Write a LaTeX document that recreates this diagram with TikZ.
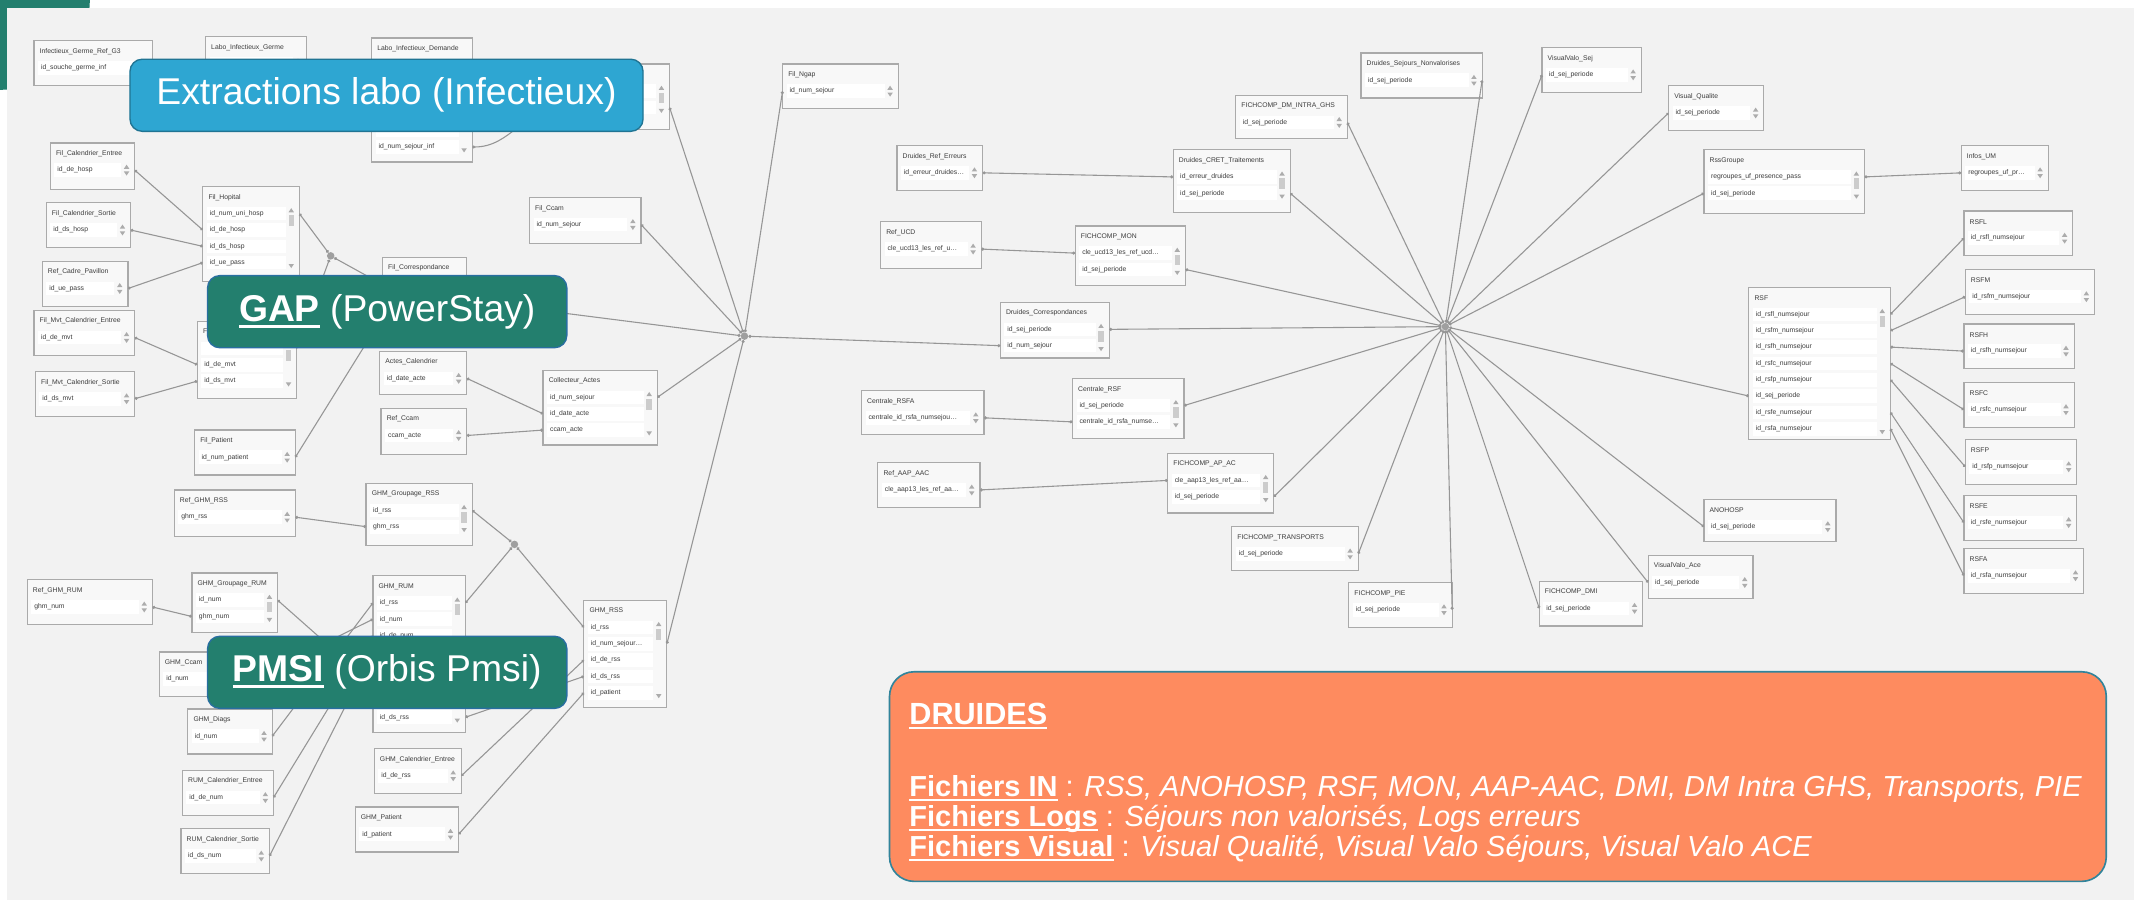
\documentclass[tikz,border=0pt]{standalone}
\usepackage{fontspec}
\setmainfont{Liberation Sans}
\usetikzlibrary{calc,arrows.meta}
\definecolor{bggray}{RGB}{242,242,242}
\definecolor{tblfill}{RGB}{248,248,248}
\definecolor{tbledge}{RGB}{170,170,170}
\definecolor{txtgray}{RGB}{60,60,60}
\definecolor{linkgray}{RGB}{150,150,150}
\definecolor{labblue}{RGB}{46,166,210}
\definecolor{gapgreen}{RGB}{35,127,110}
\definecolor{gapedge}{RGB}{40,110,160}
\definecolor{druorange}{RGB}{254,139,95}
\definecolor{druteal}{RGB}{49,132,155}
\def\hubnode{\node[hub]}
\newsavebox\ulsave
\newcommand\ulbox[1]{\sbox\ulsave{#1}\rlap{\rule[-.17em]{\wd\ulsave}{.08em}}\usebox\ulsave}
% one table: name, x, y, width, height, title, fields
\newcommand\dbtable[7]{%
  \node[tblbox, minimum width=#4, minimum height=#5] (#1) at (#2,#3) {};
  \node[tbltxt] (#1-t) at ($(#1.north west)+(4,8)$) {#6};
  \foreach \f [count=\i] in {#7} {
    \fill[white] ($(#1.north west)+(3,{8+12*\i-5})$) rectangle ($(#1.north east)+(-10,{8+12*\i+5})$);
    \node[tbltxt] (#1-f\i) at ($(#1.north west)+(5,{8+12*\i})$) {\f};
    \coordinate (#1-w\i) at (#1.west |- #1-f\i);
    \coordinate (#1-e\i) at (#1.east |- #1-f\i);
    \xdef\lastrow{\i}
  }
  \fill[gray!65] ($(#1.north east)+(-6,16)$) -- ++(-2,3) -- ++(4,0) -- cycle;
  \fill[gray!65] ($(#1.north east)+(-6,{8+12*\lastrow+4})$) -- ++(-2,-3) -- ++(4,0) -- cycle;
  \ifnum\lastrow>1 \fill[gray!40] ($(#1.north east)+(-8,21)$) rectangle ++(4,8); \fi
}

\begin{document}
\begin{tikzpicture}[x=1pt,y=-1pt,
  tblbox/.style={draw=tbledge, line width=.9pt, fill=tblfill, rectangle, inner sep=0pt, outer sep=0pt, anchor=north west},
  tbltxt/.style={font=\fontsize{5}{5.5}\selectfont, text=txtgray, inner sep=0pt, anchor=west},
  link/.style={draw=linkgray, line width=.8pt, arrows={Circle[length=2.2pt]-Circle[length=2.2pt]}},
  hub/.style={circle, fill=gray!75, inner sep=0pt, minimum size=5.5pt},
  tag/.style={anchor=north west, rounded corners=9pt, text=white, line width=1pt, minimum height=53,
    font=\fontsize{27.4}{30}\selectfont, inner sep=0pt},
  drutxt/.style={anchor=base west, inner sep=0pt, text=white, font=\fontsize{21.3}{23}\selectfont}]
\useasboundingbox (0,0) rectangle (1568,661);
\fill[white] (0,0) rectangle (1568,661);
\fill[gapgreen] (0,0) circle (66);
\fill[bggray] (5,6) rectangle (1568,661);

% Infectieux
\dbtable{germref}{25}{30}{87}{33}{Infectieux\_Germe\_Ref\_G3}{id\_souche\_germe\_inf}
\dbtable{labogerme}{151}{27}{74}{45}{Labo\_Infectieux\_Germe}{{}}
\dbtable{labodem}{273}{28}{74}{91}{Labo\_Infectieux\_Demande}{{},{},{},{},{},id\_num\_sejour\_inf}
\dbtable{labosej}{414}{47}{78}{48}{Labo\_Infectieux\_Sejour}{{},{}}
\dbtable{filngap}{575}{47}{85}{33}{Fil\_Ngap}{id\_num\_sejour}
\dbtable{filccam}{389}{145}{82}{34}{Fil\_Ccam}{id\_num\_sejour}

% GAP
\dbtable{calin}{37}{105}{62}{34}{Fil\_Calendrier\_Entree}{id\_de\_hosp}
\dbtable{calout}{34}{149}{62}{33}{Fil\_Calendrier\_Sortie}{id\_ds\_hosp}
\dbtable{cadre}{31}{192}{63}{33}{Ref\_Cadre\_Pavillon}{id\_ue\_pass}
\dbtable{hop}{149}{137}{71}{70}{Fil\_Hopital}{id\_num\_uni\_hosp,id\_de\_hosp,id\_ds\_hosp,id\_ue\_pass}
\dbtable{corr}{281}{189}{62}{57}{Fil\_Correspondance}{{},{},{}}
\dbtable{mvt}{145}{236}{73}{57}{Fil\_Mvt}{{},id\_de\_mvt,id\_ds\_mvt}
\dbtable{mvtin}{25}{228}{74}{33}{Fil\_Mvt\_Calendrier\_Entree}{id\_de\_mvt}
\dbtable{mvtout}{26}{273}{73}{33}{Fil\_Mvt\_Calendrier\_Sortie}{id\_ds\_mvt}
\dbtable{patient}{143}{316}{74}{33}{Fil\_Patient}{id\_num\_patient}
\dbtable{actcal}{279}{258}{64}{32}{Actes\_Calendrier}{id\_date\_acte}
\dbtable{refccam}{280}{300}{63}{34}{Ref\_Ccam}{ccam\_acte}
\dbtable{collact}{399}{272}{84}{55}{Collecteur\_Actes}{id\_num\_sejour,id\_date\_acte,ccam\_acte}

% PMSI
\dbtable{refrss}{128}{360}{89}{34}{Ref\_GHM\_RSS}{ghm\_rss}
\dbtable{grprss}{269}{355}{78}{46}{GHM\_Groupage\_RSS}{id\_rss,ghm\_rss}
\dbtable{refrum}{20}{426}{92}{33}{Ref\_GHM\_RUM}{ghm\_num}
\dbtable{grprum}{141}{421}{63}{44}{GHM\_Groupage\_RUM}{id\_num,ghm\_num}
\dbtable{rum}{274}{423}{68}{115}{GHM\_RUM}{id\_rss,id\_num,id\_de\_num,{},{},{},{},id\_ds\_rss}
\dbtable{ghmccam}{117}{479}{68}{33}{GHM\_Ccam}{id\_num}
\dbtable{diags}{138}{521}{62}{33}{GHM\_Diags}{id\_num}
\dbtable{rumin}{134}{566}{67}{33}{RUM\_Calendrier\_Entree}{id\_de\_num}
\dbtable{rumout}{133}{609}{65}{33}{RUM\_Calendrier\_Sortie}{id\_ds\_num}
\dbtable{ghmcalin}{275}{550}{64}{33}{GHM\_Calendrier\_Entree}{id\_de\_rss}
\dbtable{ghmpat}{261}{593}{76}{33}{GHM\_Patient}{id\_patient}
\dbtable{rss}{429}{441}{61}{79}{GHM\_RSS}{id\_rss,id\_num\_sejour\ldots,id\_de\_rss,id\_ds\_rss,id\_patient}

% DRUIDES
\dbtable{erreur}{659}{107}{63}{33}{Druides\_Ref\_Erreurs}{id\_erreur\_druides\ldots}
\dbtable{refucd}{647}{163}{74}{34}{Ref\_UCD}{cle\_ucd13\_les\_ref\_u\ldots}
\dbtable{cret}{862}{110}{86}{46}{Druides\_CRET\_Traitements}{id\_erreur\_druides,id\_sej\_periode}
\dbtable{dmintra}{908}{70}{82}{32}{FICHCOMP\_DM\_INTRA\_GHS}{id\_sej\_periode}
\dbtable{nonval}{1000}{39}{89}{33}{Druides\_Sejours\_Nonvalorises}{id\_sej\_periode}
\dbtable{valosej}{1133}{35}{73}{33}{VisualValo\_Sej}{id\_sej\_periode}
\dbtable{qualite}{1226}{63}{70}{33}{Visual\_Qualite}{id\_sej\_periode}
\dbtable{rssgrp}{1252}{110}{118}{47}{RssGroupe}{regroupes\_uf\_presence\_pass,id\_sej\_periode}
\dbtable{infosum}{1441}{107}{64}{33}{Infos\_UM}{regroupes\_uf\_pr\ldots}
\dbtable{mon}{790}{166}{81}{44}{FICHCOMP\_MON}{cle\_ucd13\_les\_ref\_ucd\ldots,id\_sej\_periode}
\dbtable{drcorr}{735}{222}{80}{41}{Druides\_Correspondances}{id\_sej\_periode,id\_num\_sejour}
\dbtable{rsfa0}{633}{287}{90}{32}{Centrale\_RSFA}{centrale\_id\_rsfa\_numsejou\ldots}
\dbtable{crsf}{788}{278}{82}{44}{Centrale\_RSF}{id\_sej\_periode,centrale\_id\_rsfa\_numse\ldots}
\dbtable{refaap}{645}{340}{75}{33}{Ref\_AAP\_AAC}{cle\_aap13\_les\_ref\_aa\ldots}
\dbtable{apac}{858}{333}{78}{44}{FICHCOMP\_AP\_AC}{cle\_aap13\_les\_ref\_aa\ldots,id\_sej\_periode}
\dbtable{transp}{905}{387}{93}{32}{FICHCOMP\_TRANSPORTS}{id\_sej\_periode}
\dbtable{pie}{991}{428}{76}{33}{FICHCOMP\_PIE}{id\_sej\_periode}
\dbtable{dmi}{1131}{427}{76}{33}{FICHCOMP\_DMI}{id\_sej\_periode}
\dbtable{valoace}{1211}{408}{77}{32}{VisualValo\_Ace}{id\_sej\_periode}
\dbtable{anohosp}{1252}{367}{97}{31}{ANOHOSP}{id\_sej\_periode}
\dbtable{rsf}{1285}{211}{104}{112}{RSF}{id\_rsfl\_numsejour,id\_rsfm\_numsejour,id\_rsfh\_numsejour,id\_rsfc\_numsejour,id\_rsfp\_numsejour,id\_sej\_periode,id\_rsfe\_numsejour,id\_rsfa\_numsejour}
\dbtable{rsfl}{1443}{155}{80}{33}{RSFL}{id\_rsfl\_numsejour}
\dbtable{rsfm}{1444}{198}{95}{33}{RSFM}{id\_rsfm\_numsejour}
\dbtable{rsfh}{1443}{238}{81}{33}{RSFH}{id\_rsfh\_numsejour}
\dbtable{rsfc}{1443}{281}{81}{33}{RSFC}{id\_rsfc\_numsejour}
\dbtable{rsfp}{1444}{323}{82}{33}{RSFP}{id\_rsfp\_numsejour}
\dbtable{rsfe}{1443}{364}{83}{33}{RSFE}{id\_rsfe\_numsejour}
\dbtable{rsfa}{1443}{403}{88}{33}{RSFA}{id\_rsfa\_numsejour}

% hubs and links
\hubnode (hubgap) at (547,247) {};
\hubnode (hubdru) at (1062,240) {};
\hubnode (hubhop) at (243,188) {};
\hubnode (hubrss) at (378,400) {};
\draw[link] (calin-e1) -- (hop-w2);
\draw[link] (calout-e1) -- (hop-w3);
\draw[link] (cadre-e1) -- (hop-w4);
\draw[link] (hop-e1) -- (hubhop);
\draw[link] (hubhop) -- (corr-w1);
\draw[link] (hubhop) -- (mvt-e1);
\draw[link] (mvtin-e1) -- (mvt-w2);
\draw[link] (mvtout-e1) -- (mvt-w3);
\draw[link] (patient-e1) -- (corr-w3);
\draw[link] (actcal-e1) -- (collact-w2);
\draw[link] (refccam-e1) -- (collact-w3);
\draw[link] (labodem-e6) to[out=0,in=180] (labosej-w2);
\foreach \t/\r in {labosej/2, filccam/1, corr/2, collact/1, rss/2}
  \draw[link] (\t-e\r) -- (hubgap);
\draw[link] (filngap-w1) -- (hubgap);
\draw[link] (hubgap) -- (drcorr-w2);
\draw[link] (refrss-e1) -- (grprss-w2);
\draw[link] (grprss-e1) -- (hubrss);
\draw[link] (hubrss) -- (rum-e1);
\draw[link] (hubrss) -- (rss-w1);
\draw[link] (refrum-e1) -- (grprum-w2);
\draw[link] (grprum-e1) -- (rum-w6);
\draw[link] (ghmccam-e1) -- (rum-w2);
\draw[link] (diags-e1) -- (rum-w1);
\draw[link] (rumin-e1) -- (rum-w3);
\draw[link] (rumout-e1) -- (rum-w4);
\draw[link] (rum-e8) -- (rss-w4);
\draw[link] (ghmcalin-e1) -- (rss-w3);
\draw[link] (ghmpat-e1) -- (rss-w5);
\draw[link] (erreur-e1) -- (cret-w1);
\draw[link] (refucd-e1) -- (mon-w1);
\draw[link] (rsfa0-e1) -- (crsf-w2);
\draw[link] (refaap-e1) -- (apac-w1);
\draw[link] (rssgrp-e1) -- (infosum-w1);
\foreach \t/\r in {cret/2, dmintra/1, nonval/1, mon/2, drcorr/1, crsf/1, apac/2, transp/1, pie/1}
  \draw[link] (hubdru) -- (\t-e\r);
\foreach \t/\r in {valosej/1, qualite/1, rssgrp/2, rsf/6, anohosp/1, valoace/1, dmi/1}
  \draw[link] (hubdru) -- (\t-w\r);
\foreach \t/\r in {rsfl/1, rsfm/2, rsfh/3, rsfc/4, rsfp/5, rsfe/7, rsfa/8}
  \draw[link] (rsf-e\r) -- (\t-w1);

% labels
\node[tag, fill=labblue, draw=labblue!70!black, minimum width=377] (labotag) at (95,43) {Extractions labo (Infectieux)};
\node[tag, fill=gapgreen, draw=gapedge, minimum width=264] (gaptag) at (152,202) {\ulbox{\textbf{GAP}} (PowerStay)};
\node[tag, fill=gapgreen, draw=gapedge, minimum width=264] (pmsitag) at (152,467) {\ulbox{\textbf{PMSI}} (Orbis Pmsi)};
\node[anchor=north west, fill=druorange, draw=druteal, line width=1.2pt, rounded corners=18pt,
  minimum width=894, minimum height=154] (druides) at (653,493) {};
\node[drutxt, font=\fontsize{22.5}{24}\selectfont\bfseries] (drutitle) at (668,532) {\ulbox{DRUIDES}};
\node[drutxt] (druin) at (668,585) {\ulbox{\textbf{Fichiers IN}} : \textit{RSS, ANOHOSP, RSF, MON, AAP-AAC, DMI, DM Intra GHS, Transports, PIE}};
\node[drutxt] (drulogs) at (668,607) {\ulbox{\textbf{Fichiers Logs}} : \textit{Séjours non valorisés, Logs erreurs}};
\node[drutxt] (druvis) at (668,629) {\ulbox{\textbf{Fichiers Visual}} : \textit{Visual Qualité, Visual Valo Séjours, Visual Valo ACE}};
\end{tikzpicture}
\end{document}
